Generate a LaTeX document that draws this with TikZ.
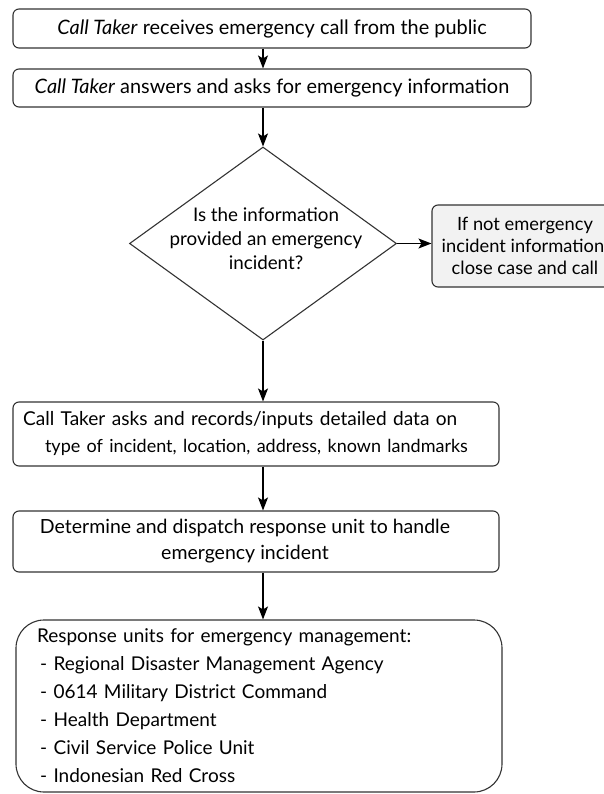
\documentclass[tikz,border=0pt]{standalone}
\usepackage{fontspec}
\setmainfont{Lato}
\usetikzlibrary{shapes.geometric,arrows.meta}

\begin{document}
\begin{tikzpicture}[x=1pt,y=-1pt,
        stepbox/.style={draw=black!80, line width=1.1pt, rounded corners=6pt, fill=white, font=\fontsize{19}{26}\selectfont},
        flow/.style={draw=black, line width=1.2pt, -{Stealth[length=13pt,width=10pt,inset=3pt]}}]
        \useasboundingbox (0,0) rectangle (603,794);

        \node[stepbox, minimum width=518pt, minimum height=39pt, font=\fontsize{19.9}{26}\selectfont] (recv) at (272,28.5) {\textit{Call Taker} receives emergency call from the public};
        \node[stepbox, minimum width=518pt, minimum height=38pt, font=\fontsize{19.9}{26}\selectfont] (answer) at (272,88) {\textit{Call Taker} answers and asks for emergency information};
        \node[draw=black!80, line width=1.1pt, diamond, minimum width=267pt, minimum height=193pt, inner sep=0pt] (check) at (263,243.5) {};
        \node[font=\fontsize{18.8}{24}\selectfont, align=center] (checktext) at (266,239) {Is the information\\provided an emergency\\incident?};
        \node[stepbox, fill=black!5, minimum width=186pt, minimum height=82pt, align=center, font=\fontsize{18.3}{22}\selectfont] (close) at (525,246) {If not emergency\\incident information,\\close case and call};
        \node[stepbox, text width=466pt, inner xsep=10pt, minimum height=64pt, align=left, font=\fontsize{19.1}{27}\selectfont] (record) at (256,434) {Call Taker asks and records/inputs detailed data on\\\hspace*{22pt}{\fontsize{18}{27}\selectfont type of incident, location, address, known landmarks}};
        \node[stepbox, minimum width=486pt, minimum height=61pt, align=center, font=\fontsize{19.5}{26}\selectfont] (dispatch) at (256,541.5) {Determine and dispatch response unit to handle\hspace*{22pt}\\emergency incident\hspace*{22pt}};
        \node[stepbox, rounded corners=28pt, text width=444pt, inner xsep=21pt, minimum height=172pt, align=left, font=\fontsize{19}{28}\selectfont] (units) at (259,706) {Response units for emergency management:\\
            \,- Regional Disaster Management Agency\\
            \,- 0614 Military District Command\\
            \,- Health Department\\
            \,- Civil Service Police Unit\\
            \,- Indonesian Red Cross};

        \path[flow] (recv.south -| check.north) -- (answer.north -| check.north);
        \path[flow] (answer.south -| check.north) -- (check.north);
        \path[flow] (check.east) -- (check.east -| close.west);
        \path[flow] (check.south) -- (check.south |- record.north);
        \path[flow] (record.south -| check.south) -- (dispatch.north -| check.south);
        \path[flow] (dispatch.south -| check.south) -- (units.north -| check.south);
    \end{tikzpicture}
\end{document}
